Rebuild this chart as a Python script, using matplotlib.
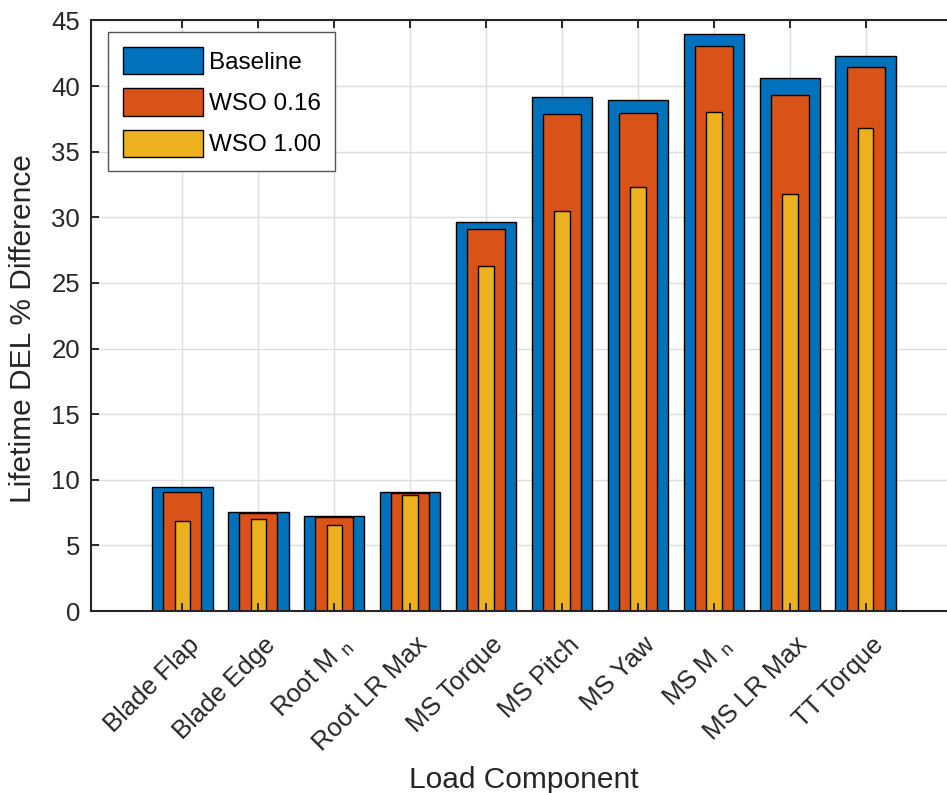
import matplotlib.pyplot as plt
import numpy as np

plt.rcParams['font.family'] = ['Liberation Sans', 'DejaVu Sans']
plt.rcParams['mathtext.default'] = 'regular'

# Lifetime DEL % difference per load component
components = ['Blade Flap', 'Blade Edge', 'Root M $_n$', 'Root LR Max', 'MS Torque',
              'MS Pitch', 'MS Yaw', 'MS M $_n$', 'MS LR Max', 'TT Torque']
baseline = [9.45, 7.52, 7.27, 9.04, 29.67, 39.18, 38.92, 44.0, 40.65, 42.27]
wso_016 = [9.04, 7.44, 7.17, 8.99, 29.1, 37.85, 37.93, 43.09, 39.3, 41.43]
wso_100 = [6.83, 6.99, 6.56, 8.84, 26.3, 30.51, 32.34, 38.03, 31.8, 36.81]

blue = '#0072BD'
orange = '#D95319'
yellow = '#EDB120'
dark = '#262626'

x = np.arange(1, len(components) + 1)

fig = plt.figure(figsize=(9.47, 7.93), dpi=100)
ax = fig.add_axes([0.0961, 0.2295, 0.9145, 0.7447])

ax.bar(x, baseline, width=0.8, color=blue, edgecolor='black', linewidth=1.0, label='Baseline', zorder=2)
ax.bar(x, wso_016, width=0.5, color=orange, edgecolor='black', linewidth=1.0, label='WSO 0.16', zorder=2)
ax.bar(x, wso_100, width=0.2, color=yellow, edgecolor='black', linewidth=1.0, label='WSO 1.00', zorder=2)

ax.set_xlim(-0.2, 11.2)
ax.set_ylim(0, 45)
ax.set_yticks(np.arange(0, 46, 5))
ax.set_xticks(x)
ax.set_xticklabels([])

# rotated category names, right end tucked under each tick
for xi, name in zip(x, components):
    ax.annotate(name, xy=(xi, 0), xycoords=('data', 'axes fraction'),
                xytext=(3.6, -15.5), textcoords='offset points',
                rotation=45, ha='right', va='top', rotation_mode='anchor',
                fontsize=18.5, color=dark)

# grid behind the bars, ticks stay on top
for yv in ax.get_yticks():
    ax.axhline(yv, color='#dedede', linewidth=1.0, zorder=0)
for xv in x:
    ax.axvline(xv, color='#dedede', linewidth=1.0, zorder=0)
ax.set_axisbelow(False)

ax.tick_params(direction='in', length=6, width=1.4, colors=dark, labelsize=18.5,
               top=True, right=False, pad=8)
for side in ['left', 'top', 'bottom']:
    ax.spines[side].set_linewidth(1.5)
    ax.spines[side].set_color(dark)
ax.spines['right'].set_visible(False)

ax.set_ylabel('Lifetime DEL % Difference', fontsize=21.5, color=dark)
ax.yaxis.set_label_coords(-0.062, 0.478)
ax.set_xlabel('Load Component', fontsize=21.5, color=dark)
ax.xaxis.set_label_coords(0.5, -0.262)

leg = ax.legend(loc='upper left', bbox_to_anchor=(0.0196, 0.98), fontsize=17.5,
                handlelength=3.3, handleheight=1.35, handletextpad=0.25,
                labelspacing=0.58, borderpad=0.6, borderaxespad=0.0,
                fancybox=False, framealpha=1.0)
leg.get_frame().set_edgecolor('#555555')
leg.get_frame().set_linewidth(1.0)

fig.savefig('out.png', dpi=100)
